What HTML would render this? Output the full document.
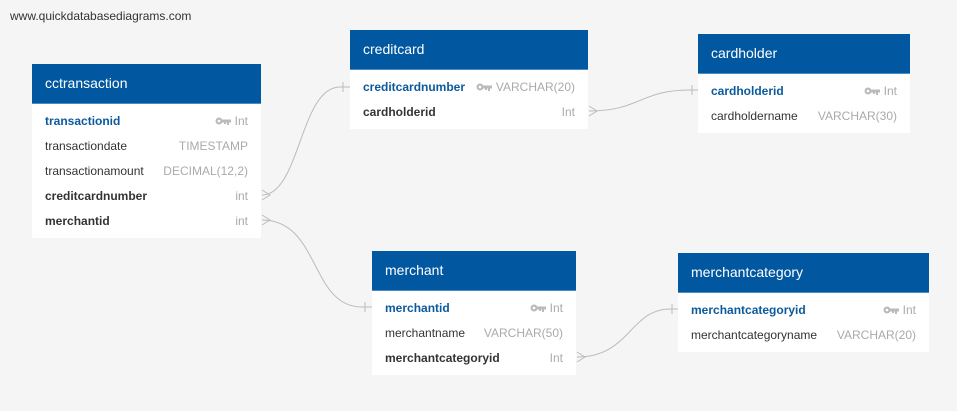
<!DOCTYPE html>
<html><head><meta charset="utf-8"><style>
body{margin:0;width:957px;height:411px;background:#f5f5f5;font-family:"Liberation Sans",Arial,sans-serif;position:relative;overflow:hidden}
.t{position:absolute;background:#fff}
.h{background:#0158a0;color:#fff;font-size:14px;height:39px;line-height:39px;padding-left:13px;border-bottom:1px solid #4a8cc4}
.r{height:25px;line-height:25px;font-size:12px;color:#333;padding:0 13px;display:flex;justify-content:space-between}
.r span:last-child{color:#aaa}
.pk span:first-child{color:#0a5a9c;font-weight:bold}
.fk span:first-child{font-weight:bold;color:#333}
.k{display:inline-block;width:16px;height:8px;margin-right:4px;vertical-align:0px}
.wm{position:absolute;left:10px;top:9px;font-size:12px;color:#333}
</style></head><body>
<div class="wm">www.quickdatabasediagrams.com</div>
<svg width="957" height="411" style="position:absolute;left:0;top:0" fill="none" stroke="#bbb" stroke-width="1">
<path d="M262 195 C300 195 300 87 340 87 L350 87"/><path d="M262 190 L270 195 L262 200"/><path d="M343 82 L343 92"/>
<path d="M262 220 C320 220 310 307 362 307 L372 307"/><path d="M262 215 L270 220 L262 225"/><path d="M365 302 L365 312"/>
<path d="M589 111 C640 111 640 90 690 90 L698 90"/><path d="M589 106 L597 111 L589 116"/><path d="M692 85 L692 95"/>
<path d="M577 357 C630 357 630 309 670 309 L678 309"/><path d="M577 352 L585 357 L577 362"/><path d="M672 304 L672 314"/>
</svg>
<svg width="0" height="0" style="position:absolute"><defs><g id="key"><circle cx="4" cy="4" r="3.5" fill="#bbb"/><circle cx="4" cy="4" r="1.3" fill="#fff"/><rect x="7" y="2.5" width="9" height="3" fill="#bbb"/><rect x="12" y="5" width="2" height="3" fill="#bbb"/><rect x="9" y="5" width="2" height="2" fill="#bbb"/></g></defs></svg>
<div class="t" style="left:32px;top:64px;width:229px;height:174px">
<div class="h">cctransaction</div>
<div style="height:5px"></div>
<div class="r pk"><span>transactionid</span><span><svg class="k"><use href="#key"/></svg>Int</span></div>
<div class="r"><span>transactiondate</span><span>TIMESTAMP</span></div>
<div class="r"><span>transactionamount</span><span>DECIMAL(12,2)</span></div>
<div class="r fk"><span>creditcardnumber</span><span>int</span></div>
<div class="r fk"><span>merchantid</span><span>int</span></div>
</div>
<div class="t" style="left:350px;top:30px;width:238px;height:99px">
<div class="h">creditcard</div>
<div style="height:5px"></div>
<div class="r pk"><span>creditcardnumber</span><span><svg class="k"><use href="#key"/></svg>VARCHAR(20)</span></div>
<div class="r fk"><span>cardholderid</span><span>Int</span></div>
</div>
<div class="t" style="left:698px;top:34px;width:212px;height:99px">
<div class="h">cardholder</div>
<div style="height:5px"></div>
<div class="r pk"><span>cardholderid</span><span><svg class="k"><use href="#key"/></svg>Int</span></div>
<div class="r"><span>cardholdername</span><span>VARCHAR(30)</span></div>
</div>
<div class="t" style="left:372px;top:251px;width:204px;height:124px">
<div class="h">merchant</div>
<div style="height:5px"></div>
<div class="r pk"><span>merchantid</span><span><svg class="k"><use href="#key"/></svg>Int</span></div>
<div class="r"><span>merchantname</span><span>VARCHAR(50)</span></div>
<div class="r fk"><span>merchantcategoryid</span><span>Int</span></div>
</div>
<div class="t" style="left:678px;top:253px;width:251px;height:99px">
<div class="h">merchantcategory</div>
<div style="height:5px"></div>
<div class="r pk"><span>merchantcategoryid</span><span><svg class="k"><use href="#key"/></svg>Int</span></div>
<div class="r"><span>merchantcategoryname</span><span>VARCHAR(20)</span></div>
</div>
</body></html>
